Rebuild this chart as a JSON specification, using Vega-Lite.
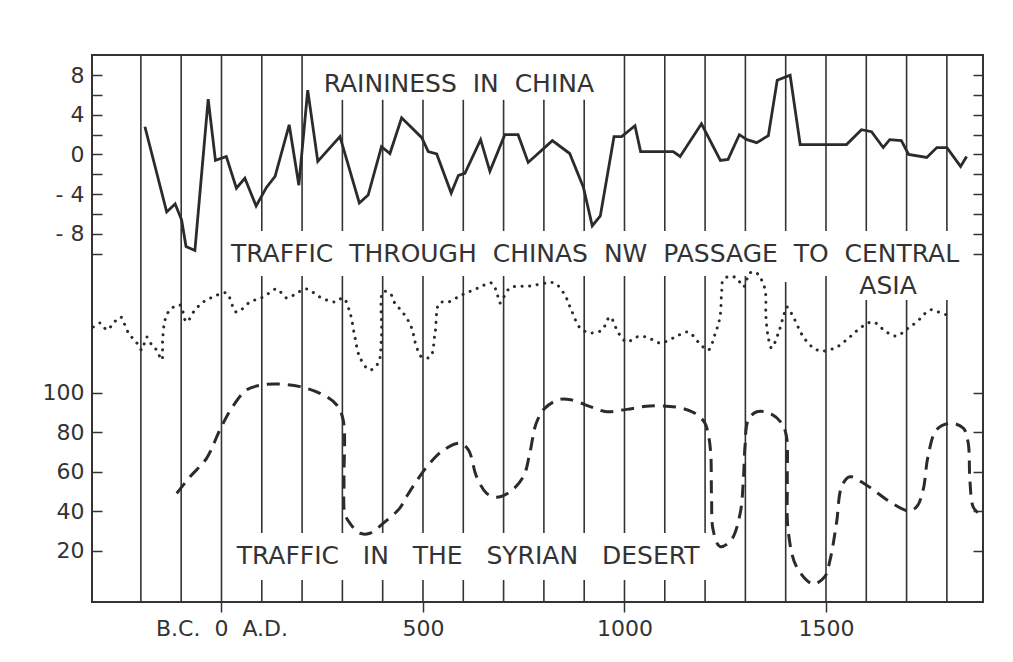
{
  "$schema": "https://vega.github.io/schema/vega-lite/v6.json",
  "width": 891,
  "height": 547,
  "autosize": {"type": "none"},
  "padding": {"left": 92, "top": 55, "right": 30, "bottom": 60},
  "background": "white",
  "config": {
    "view": {"stroke": "#333333", "strokeWidth": 2},
    "axis": {"domain": false, "grid": false, "tickColor": "#333333", "tickWidth": 1.5, "labelFont": "DejaVu Sans", "labelFontSize": 22, "labelColor": "#333333"}
  },
  "datasets": {
    "grid": [
      {"year": -200, "lo": -5.82, "hi": 271.1},
      {"year": -100, "lo": -5.82, "hi": 271.1},
      {"year": 0, "lo": -5.82, "hi": 271.1},
      {"year": 100, "lo": 182, "hi": 271.1}, {"year": 100, "lo": 29.1, "hi": 159.2}, {"year": 100, "lo": -5.82, "hi": 5.3},
      {"year": 200, "lo": 182, "hi": 271.1}, {"year": 200, "lo": 29.1, "hi": 159.2}, {"year": 200, "lo": -5.82, "hi": 5.3},
      {"year": 300, "lo": 182, "hi": 248.4}, {"year": 300, "lo": 29.1, "hi": 159.2}, {"year": 300, "lo": -5.82, "hi": 5.3},
      {"year": 400, "lo": 182, "hi": 248.4}, {"year": 400, "lo": 29.1, "hi": 159.2}, {"year": 400, "lo": -5.82, "hi": 5.3},
      {"year": 500, "lo": 182, "hi": 248.4}, {"year": 500, "lo": 29.1, "hi": 159.2}, {"year": 500, "lo": -5.82, "hi": 5.3},
      {"year": 600, "lo": 182, "hi": 248.4}, {"year": 600, "lo": 29.1, "hi": 159.2}, {"year": 600, "lo": -5.82, "hi": 5.3},
      {"year": 700, "lo": 182, "hi": 248.4}, {"year": 700, "lo": 29.1, "hi": 159.2}, {"year": 700, "lo": -5.82, "hi": 5.3},
      {"year": 800, "lo": 182, "hi": 248.4}, {"year": 800, "lo": 29.1, "hi": 159.2}, {"year": 800, "lo": -5.82, "hi": 5.3},
      {"year": 900, "lo": 182, "hi": 248.4}, {"year": 900, "lo": 29.1, "hi": 159.2}, {"year": 900, "lo": -5.82, "hi": 5.3},
      {"year": 1000, "lo": 182, "hi": 271.1}, {"year": 1000, "lo": 29.1, "hi": 159.2}, {"year": 1000, "lo": -5.82, "hi": 5.3},
      {"year": 1100, "lo": 182, "hi": 271.1}, {"year": 1100, "lo": 29.1, "hi": 159.2}, {"year": 1100, "lo": -5.82, "hi": 5.3},
      {"year": 1200, "lo": 182, "hi": 271.1}, {"year": 1200, "lo": 29.1, "hi": 159.2}, {"year": 1200, "lo": -5.82, "hi": 5.3},
      {"year": 1300, "lo": 182, "hi": 271.1}, {"year": 1300, "lo": -5.82, "hi": 159.2},
      {"year": 1400, "lo": 182, "hi": 271.1}, {"year": 1400, "lo": -5.82, "hi": 156.2},
      {"year": 1500, "lo": 182, "hi": 271.1}, {"year": 1500, "lo": -5.82, "hi": 159.2},
      {"year": 1600, "lo": 182, "hi": 271.1}, {"year": 1600, "lo": -5.82, "hi": 147.1},
      {"year": 1700, "lo": 182, "hi": 271.1}, {"year": 1700, "lo": -5.82, "hi": 147.1},
      {"year": 1800, "lo": 182, "hi": 271.1}, {"year": 1800, "lo": -5.82, "hi": 147.1}
    ],
    "rain": [
      {"year": -190, "r": 2.8}, {"year": -136, "r": -5.8}, {"year": -115, "r": -5.0}, {"year": -99, "r": -6.6},
      {"year": -88, "r": -9.3}, {"year": -66, "r": -9.7}, {"year": -33, "r": 5.6}, {"year": -15, "r": -0.6},
      {"year": 12, "r": -0.2}, {"year": 37, "r": -3.4}, {"year": 58, "r": -2.4}, {"year": 86, "r": -5.2},
      {"year": 112, "r": -3.3}, {"year": 133, "r": -2.2}, {"year": 168, "r": 3.0}, {"year": 192, "r": -3.1},
      {"year": 214, "r": 6.5}, {"year": 239, "r": -0.7}, {"year": 294, "r": 1.8}, {"year": 342, "r": -4.9},
      {"year": 364, "r": -4.1}, {"year": 397, "r": 0.8}, {"year": 418, "r": 0.1}, {"year": 447, "r": 3.7},
      {"year": 497, "r": 1.7}, {"year": 513, "r": 0.3}, {"year": 534, "r": 0.05}, {"year": 570, "r": -3.9},
      {"year": 588, "r": -2.1}, {"year": 604, "r": -1.9}, {"year": 643, "r": 1.5}, {"year": 666, "r": -1.7},
      {"year": 703, "r": 2.0}, {"year": 736, "r": 2.0}, {"year": 761, "r": -0.8}, {"year": 821, "r": 1.4},
      {"year": 864, "r": 0.1}, {"year": 898, "r": -3.3}, {"year": 920, "r": -7.2}, {"year": 940, "r": -6.2},
      {"year": 974, "r": 1.8}, {"year": 993, "r": 1.8}, {"year": 1026, "r": 2.9}, {"year": 1040, "r": 0.3},
      {"year": 1121, "r": 0.3}, {"year": 1138, "r": -0.2}, {"year": 1191, "r": 3.1}, {"year": 1238, "r": -0.6},
      {"year": 1257, "r": -0.5}, {"year": 1285, "r": 2.0}, {"year": 1304, "r": 1.5}, {"year": 1328, "r": 1.2},
      {"year": 1357, "r": 1.9}, {"year": 1379, "r": 7.5}, {"year": 1411, "r": 8.0}, {"year": 1436, "r": 1.0},
      {"year": 1551, "r": 1.0}, {"year": 1588, "r": 2.5}, {"year": 1613, "r": 2.3}, {"year": 1642, "r": 0.7},
      {"year": 1658, "r": 1.5}, {"year": 1687, "r": 1.4}, {"year": 1705, "r": 0.0}, {"year": 1750, "r": -0.3},
      {"year": 1775, "r": 0.7}, {"year": 1800, "r": 0.7}, {"year": 1834, "r": -1.2}, {"year": 1849, "r": -0.2}
    ],
    "nw": [
      {"year": -318, "v": 53}, {"year": -301, "v": 57}, {"year": -284, "v": 50}, {"year": -268, "v": 57},
      {"year": -250, "v": 63}, {"year": -235, "v": 50}, {"year": -223, "v": 43}, {"year": -210, "v": 37},
      {"year": -198, "v": 30}, {"year": -185, "v": 43}, {"year": -173, "v": 35}, {"year": -161, "v": 30},
      {"year": -148, "v": 20}, {"year": -146, "v": 40}, {"year": -140, "v": 60}, {"year": -128, "v": 70},
      {"year": -103, "v": 75}, {"year": -87, "v": 58}, {"year": -66, "v": 70}, {"year": -45, "v": 78},
      {"year": -21, "v": 83}, {"year": 12, "v": 87}, {"year": 37, "v": 68}, {"year": 71, "v": 78},
      {"year": 104, "v": 83}, {"year": 137, "v": 91}, {"year": 162, "v": 82}, {"year": 191, "v": 88},
      {"year": 212, "v": 91}, {"year": 244, "v": 83}, {"year": 282, "v": 78}, {"year": 302, "v": 82},
      {"year": 319, "v": 67}, {"year": 331, "v": 43}, {"year": 343, "v": 23}, {"year": 368, "v": 10},
      {"year": 389, "v": 17}, {"year": 397, "v": 43}, {"year": 401, "v": 88}, {"year": 418, "v": 87},
      {"year": 430, "v": 77}, {"year": 451, "v": 67}, {"year": 471, "v": 53}, {"year": 484, "v": 33},
      {"year": 497, "v": 23}, {"year": 518, "v": 23}, {"year": 530, "v": 47}, {"year": 541, "v": 77},
      {"year": 563, "v": 78}, {"year": 596, "v": 85}, {"year": 637, "v": 92}, {"year": 670, "v": 97},
      {"year": 683, "v": 88}, {"year": 691, "v": 77}, {"year": 716, "v": 92}, {"year": 765, "v": 94},
      {"year": 807, "v": 97}, {"year": 827, "v": 97}, {"year": 852, "v": 85}, {"year": 868, "v": 70},
      {"year": 890, "v": 52}, {"year": 915, "v": 47}, {"year": 944, "v": 50}, {"year": 964, "v": 63},
      {"year": 985, "v": 47}, {"year": 1006, "v": 38}, {"year": 1030, "v": 43}, {"year": 1055, "v": 43},
      {"year": 1088, "v": 37}, {"year": 1121, "v": 42}, {"year": 1158, "v": 48}, {"year": 1183, "v": 38},
      {"year": 1208, "v": 30}, {"year": 1224, "v": 45}, {"year": 1237, "v": 63}, {"year": 1241, "v": 87},
      {"year": 1245, "v": 100}, {"year": 1265, "v": 104}, {"year": 1282, "v": 100}, {"year": 1295, "v": 93},
      {"year": 1311, "v": 107}, {"year": 1324, "v": 108}, {"year": 1336, "v": 103}, {"year": 1349, "v": 90},
      {"year": 1351, "v": 63}, {"year": 1357, "v": 42}, {"year": 1365, "v": 32}, {"year": 1382, "v": 47},
      {"year": 1394, "v": 63}, {"year": 1403, "v": 73}, {"year": 1419, "v": 63}, {"year": 1444, "v": 43},
      {"year": 1469, "v": 32}, {"year": 1490, "v": 29}, {"year": 1527, "v": 33}, {"year": 1559, "v": 43},
      {"year": 1592, "v": 54}, {"year": 1617, "v": 58}, {"year": 1650, "v": 48}, {"year": 1675, "v": 44},
      {"year": 1701, "v": 51}, {"year": 1725, "v": 58}, {"year": 1758, "v": 70}, {"year": 1779, "v": 68},
      {"year": 1800, "v": 65}
    ],
    "syria": [
      {"year": -111, "s": 49.2}, {"year": -78, "s": 57.6}, {"year": -37, "s": 66.9}, {"year": -4, "s": 81.3},
      {"year": 25, "s": 92.2}, {"year": 62, "s": 101.5}, {"year": 100, "s": 104}, {"year": 142, "s": 104.5},
      {"year": 195, "s": 103.2}, {"year": 253, "s": 99}, {"year": 286, "s": 93.9}, {"year": 302, "s": 86.3},
      {"year": 304, "s": 56}, {"year": 306, "s": 39}, {"year": 319, "s": 34}, {"year": 343, "s": 29},
      {"year": 368, "s": 29}, {"year": 401, "s": 34}, {"year": 442, "s": 41.6}, {"year": 459, "s": 47.5},
      {"year": 510, "s": 62.7}, {"year": 551, "s": 71.1}, {"year": 592, "s": 74.5}, {"year": 613, "s": 71.1},
      {"year": 633, "s": 57.6}, {"year": 658, "s": 49.2}, {"year": 682, "s": 47.2}, {"year": 716, "s": 50},
      {"year": 749, "s": 57.6}, {"year": 765, "s": 69.5}, {"year": 781, "s": 84.7}, {"year": 802, "s": 92.2},
      {"year": 840, "s": 96.8}, {"year": 868, "s": 96.5}, {"year": 915, "s": 93.1}, {"year": 956, "s": 90.5},
      {"year": 1006, "s": 91.7}, {"year": 1063, "s": 93.4}, {"year": 1129, "s": 92.8}, {"year": 1175, "s": 89.7},
      {"year": 1199, "s": 85}, {"year": 1208, "s": 79}, {"year": 1214, "s": 69.5}, {"year": 1216, "s": 47.5},
      {"year": 1220, "s": 30.6}, {"year": 1237, "s": 22.2}, {"year": 1265, "s": 25.6}, {"year": 1287, "s": 39},
      {"year": 1295, "s": 56}, {"year": 1299, "s": 72.8}, {"year": 1307, "s": 86.3}, {"year": 1328, "s": 90.5},
      {"year": 1361, "s": 89.7}, {"year": 1390, "s": 84.7}, {"year": 1402, "s": 77.9}, {"year": 1404, "s": 56},
      {"year": 1406, "s": 30.6}, {"year": 1427, "s": 12}, {"year": 1468, "s": 3.3}, {"year": 1497, "s": 7},
      {"year": 1510, "s": 15.4}, {"year": 1526, "s": 34}, {"year": 1539, "s": 52.6}, {"year": 1559, "s": 57.6},
      {"year": 1600, "s": 53.4}, {"year": 1658, "s": 45}, {"year": 1705, "s": 40.4}, {"year": 1725, "s": 42.4},
      {"year": 1741, "s": 50.9}, {"year": 1753, "s": 67.7}, {"year": 1774, "s": 81.3}, {"year": 1808, "s": 84.7},
      {"year": 1841, "s": 82.1}, {"year": 1853, "s": 74.5}, {"year": 1857, "s": 56}, {"year": 1865, "s": 42.4},
      {"year": 1877, "s": 39.4}
    ],
    "rainLabel": [{"year": 589, "r": 7.1, "label": "RAININESS \u00a0IN \u00a0CHINA"}],
    "nwLabel": [
      {"year": 927, "v": 126, "label": "TRAFFIC \u00a0THROUGH \u00a0CHINAS \u00a0NW \u00a0PASSAGE \u00a0TO \u00a0CENTRAL"},
      {"year": 1654, "v": 94, "label": "ASIA"}
    ],
    "syriaLabel": [{"year": 612, "s": 17.5, "label": "TRAFFIC \u00a0\u00a0IN \u00a0\u00a0THE \u00a0\u00a0SYRIAN \u00a0\u00a0DESERT"}]
  },
  "encoding": {
    "x": {
      "field": "year", "type": "quantitative",
      "scale": {"domain": [-321.3, 1889.6], "nice": false, "zero": false},
      "axis": {"values": [0, 500, 1000, 1500], "format": "d", "tickSize": 10, "labelPadding": 6, "title": null,
        "labelExpr": "datum.value == 0 ? 'B.C.\u00a0\u00a00\u00a0\u00a0A.D.' : datum.label"}
    }
  },
  "layer": [
    {
      "data": {"name": "grid"},
      "mark": {"type": "rule", "color": "#333333", "strokeWidth": 1.6},
      "encoding": {
        "y": {"field": "lo", "type": "quantitative", "scale": {"domain": [-5.82, 271.1], "nice": false, "zero": false}, "axis": null},
        "y2": {"field": "hi"}
      }
    },
    {
      "data": {"name": "rain"},
      "mark": {"type": "line", "color": "#2b2b2b", "strokeWidth": 2.8},
      "encoding": {
        "y": {"field": "r", "type": "quantitative", "scale": {"domain": [-45.2, 10.05], "nice": false, "zero": false},
          "axis": {"orient": "left", "values": [-10, -8, -6, -4, -2, 0, 2, 4, 6, 8], "tickSize": -10, "labelPadding": 18, "title": null,
            "labelExpr": "datum.value % 4 == 0 ? (datum.value < 0 ? '- ' + abs(datum.value) : '' + datum.value) : ''"}},
        "order": {"value": null}
      }
    },
    {
      "data": {"name": "rain"},
      "mark": {"type": "line", "strokeOpacity": 0},
      "encoding": {
        "y": {"field": "r", "type": "quantitative", "scale": {"domain": [-45.2, 10.05], "nice": false, "zero": false},
          "axis": {"orient": "right", "values": [-10, -8, -6, -4, -2, 0, 2, 4, 6, 8], "tickSize": -10, "labels": false, "title": null}}
      }
    },
    {
      "data": {"name": "nw"},
      "mark": {"type": "line", "color": "#2b2b2b", "strokeWidth": 3, "strokeCap": "round", "strokeDash": [0.1, 7.5], "interpolate": "catmull-rom"},
      "encoding": {
        "y": {"field": "v", "type": "quantitative", "scale": {"domain": [-222, 325], "nice": false, "zero": false}, "axis": null},
        "order": {"value": null}
      }
    },
    {
      "data": {"name": "syria"},
      "mark": {"type": "line", "color": "#2b2b2b", "strokeWidth": 3, "strokeDash": [13, 8], "interpolate": "catmull-rom"},
      "encoding": {
        "y": {"field": "s", "type": "quantitative", "scale": {"domain": [-5.82, 271.1], "nice": false, "zero": false},
          "axis": {"orient": "left", "values": [20, 40, 60, 80, 100], "tickSize": -10, "labelPadding": 18, "title": null}},
        "order": {"value": null}
      }
    },
    {
      "data": {"name": "syria"},
      "mark": {"type": "line", "strokeOpacity": 0},
      "encoding": {
        "y": {"field": "s", "type": "quantitative", "scale": {"domain": [-5.82, 271.1], "nice": false, "zero": false},
          "axis": {"orient": "right", "values": [20, 40, 60, 80, 100], "tickSize": -10, "labels": false, "title": null}}
      }
    },
    {
      "data": {"name": "rainLabel"},
      "mark": {"type": "text", "font": "DejaVu Sans", "fontSize": 25, "color": "#333333", "align": "center", "baseline": "middle"},
      "encoding": {
        "y": {"field": "r", "type": "quantitative", "scale": {"domain": [-45.2, 10.05], "nice": false, "zero": false}, "axis": null},
        "text": {"field": "label"}
      }
    },
    {
      "data": {"name": "nwLabel"},
      "mark": {"type": "text", "font": "DejaVu Sans", "fontSize": 25, "color": "#333333", "align": "center", "baseline": "middle"},
      "encoding": {
        "y": {"field": "v", "type": "quantitative", "scale": {"domain": [-222, 325], "nice": false, "zero": false}, "axis": null},
        "text": {"field": "label"}
      }
    },
    {
      "data": {"name": "syriaLabel"},
      "mark": {"type": "text", "font": "DejaVu Sans", "fontSize": 25, "color": "#333333", "align": "center", "baseline": "middle"},
      "encoding": {
        "y": {"field": "s", "type": "quantitative", "scale": {"domain": [-5.82, 271.1], "nice": false, "zero": false}, "axis": null},
        "text": {"field": "label"}
      }
    }
  ],
  "resolve": {"scale": {"y": "independent"}, "axis": {"y": "independent"}}
}
